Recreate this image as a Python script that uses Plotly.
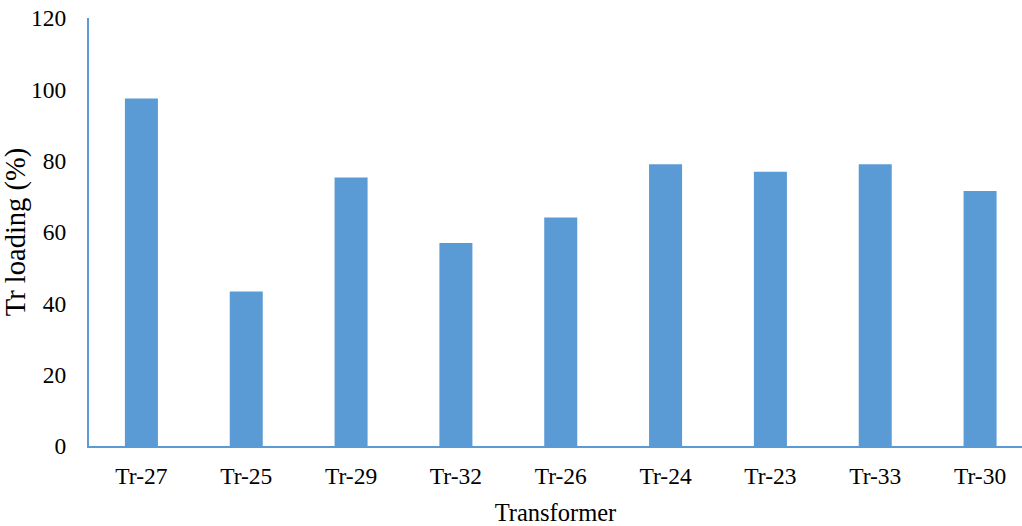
import plotly.graph_objects as go

# Transformer loading data
transformers = ["Tr-27", "Tr-25", "Tr-29", "Tr-32", "Tr-26", "Tr-24", "Tr-23", "Tr-33", "Tr-30"]
loading_pct = [97.4, 43.3, 75.3, 56.9, 64.1, 79.0, 76.9, 79.0, 71.5]
y_ticks = [0, 20, 40, 60, 80, 100, 120]

BLUE = "#5B9BD5"
FONT = "Liberation Serif, Times New Roman, serif"

fig = go.Figure(
    go.Bar(
        x=list(range(len(transformers))),
        y=loading_pct,
        marker=dict(color=BLUE, line=dict(width=0)),
        hoverinfo="skip",
    )
)

fig.update_layout(
    width=1022,
    height=526,
    margin=dict(l=89, r=0, t=18, b=78),
    paper_bgcolor="white",
    plot_bgcolor="white",
    bargap=0.685,
    showlegend=False,
    font=dict(family=FONT, color="black", size=23),
)

fig.update_xaxes(
    tickmode="array",
    tickvals=list(range(len(transformers))),
    ticktext=transformers,
    range=[-0.5, 8.4],
    showline=True,
    linecolor=BLUE,
    linewidth=2,
    showgrid=False,
    zeroline=False,
    ticks="",
    ticklen=0,
    ticklabelstandoff=8,
    tickfont=dict(family=FONT, size=23.5),
    title=dict(text="Transformer", font=dict(family=FONT, size=24.5), standoff=20),
)

fig.update_yaxes(
    range=[0, 120],
    tickmode="array",
    tickvals=y_ticks,
    showline=True,
    linecolor=BLUE,
    linewidth=2,
    showgrid=False,
    zeroline=False,
    ticks="",
    ticklabelstandoff=16,
    tickfont=dict(family=FONT, size=23.5),
    title=dict(text="Tr loading (%)", font=dict(family=FONT, size=28.5), standoff=2),
)

fig.write_html("out.html")
